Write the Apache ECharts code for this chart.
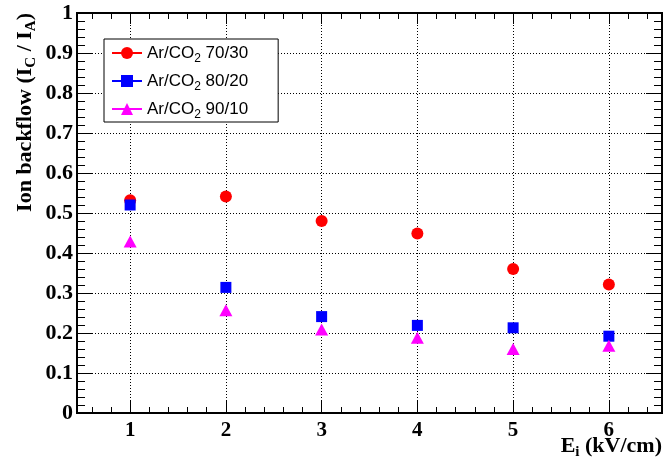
<!DOCTYPE html>
<html>
<head>
<meta charset="utf-8">
<script src="https://cdn.jsdelivr.net/npm/echarts@6/dist/echarts.min.js"></script>
<style>
  html, body { margin: 0; padding: 0; background: #fff; }
  #chart { width: 666px; height: 466px; }
</style>
</head>
<body>
<div id="chart"></div>
<script>
// Induction field E_i (kV/cm)
const fieldValues = [1, 2, 3, 4, 5, 6];
// Ion backflow I_C / I_A for each Ar/CO2 mixture
const ibf7030 = [0.532, 0.541, 0.480, 0.449, 0.360, 0.321];
const ibf8020 = [0.520, 0.314, 0.241, 0.219, 0.213, 0.192];
const ibf9010 = [0.429, 0.257, 0.209, 0.188, 0.160, 0.168];
// Mixture labels
const mixtures = ['70/30', '80/20', '90/10'];
// Tick positions on the field axis
const xMajorTicks = [1, 2, 3, 4, 5, 6];
const xMinorTicks = [0.6, 0.8, 1.2, 1.4, 1.6, 1.8, 2.2, 2.4, 2.6, 2.8,
                     3.2, 3.4, 3.6, 3.8, 4.2, 4.4, 4.6, 4.8, 5.2, 5.4,
                     5.6, 5.8, 6.2, 6.4];

const SERIF = 'Liberation Serif';
const SANS = 'Liberation Sans';
const X_MIN = 0.445, X_MAX = 6.555;

const pairs = (ys) => fieldValues.map((x, i) => [x, ys[i]]);

function xAxisDef(position, ticks, len, withLabels) {
  return {
    type: 'value', position: position, min: X_MIN, max: X_MAX,
    axisLine: { show: false },
    axisTick: { show: true, inside: true, length: len, customValues: ticks,
                lineStyle: { color: '#000', width: 1 } },
    axisLabel: withLabels ? {
      show: true, customValues: ticks, margin: 7,
      fontFamily: SERIF, fontWeight: 'bold', fontSize: 21, color: '#000'
    } : { show: false },
    splitLine: withLabels ? {
      show: true, lineStyle: { color: '#000', width: 1, type: [1, 2] }
    } : { show: false }
  };
}

function yAxisDef(position, withLabels) {
  return {
    type: 'value', position: position, min: 0, max: 1, interval: 0.1,
    axisLine: { show: false },
    axisTick: { show: true, inside: true, length: 16,
                lineStyle: { color: '#000', width: 1 } },
    minorTick: { show: true, splitNumber: 5, length: 8,
                 lineStyle: { color: '#000', width: 1 } },
    axisLabel: withLabels ? {
      show: true, margin: 4,
      fontFamily: SERIF, fontWeight: 'bold', fontSize: 22, color: '#000'
    } : { show: false },
    splitLine: withLabels ? {
      show: true, lineStyle: { color: '#000', width: 1, type: [1, 2] }
    } : { show: false }
  };
}

const subStyle = { fontFamily: SERIF, fontWeight: 'bold', fontSize: 15, color: '#000',
                   lineHeight: 12, padding: [12, 0, 0, 0] };

const xAxes = [
  xAxisDef('bottom', xMajorTicks, 12, true),
  xAxisDef('bottom', xMinorTicks, 6, false),
  xAxisDef('top', xMajorTicks, 11, false),
  xAxisDef('top', xMinorTicks, 6, false)
];
Object.assign(xAxes[0], {
  name: 'E{s|i} (kV/cm)',
  nameLocation: 'end',
  nameGap: 0,
  nameMoveOverlap: false,
  nameTextStyle: {
    fontFamily: SERIF, fontWeight: 'bold', fontSize: 22, color: '#000',
    align: 'right', verticalAlign: 'top', lineHeight: 24, padding: [21, 0, 0, 0],
    rich: { s: subStyle }
  }
});

const yAxes = [yAxisDef('left', true), yAxisDef('right', false)];
Object.assign(yAxes[0], {
  name: 'Ion backflow (I{s|C} / I{s|A})',
  nameLocation: 'end',
  nameRotate: 90,
  nameGap: 0,
  nameMoveOverlap: false,
  nameTextStyle: {
    fontFamily: SERIF, fontWeight: 'bold', fontSize: 22, color: '#000',
    align: 'right', verticalAlign: 'bottom', lineHeight: 24, padding: [0, 0, 40, 0],
    rich: { s: subStyle }
  }
});

function mixtureSeries(name, values, symbol, size, color) {
  return {
    name: name, type: 'line', data: pairs(values),
    xAxisIndex: 0, yAxisIndex: 0,
    symbol: symbol, symbolSize: size, showSymbol: true,
    lineStyle: { width: 0, opacity: 0 },
    itemStyle: { color: color, borderWidth: 0 },
    emphasis: { disabled: true },
    z: 3
  };
}

const chart = echarts.init(document.getElementById('chart'), null, { renderer: 'canvas' });
chart.setOption({
  animation: false,
  backgroundColor: '#fff',
  grid: {
    left: 77, right: 4, top: 13, bottom: 53,
    show: true, borderColor: '#000', borderWidth: 2,
    backgroundColor: 'transparent',
    outerBoundsMode: 'none'
  },
  xAxis: xAxes,
  yAxis: yAxes,
  legend: {
    orient: 'vertical', left: 104, top: 39,
    padding: [2, 30, 1, 7],
    itemWidth: 30, itemHeight: 15, itemGap: 4,
    backgroundColor: '#fff', borderColor: '#000', borderWidth: 1, borderRadius: 0,
    lineStyle: { width: 2, opacity: 1 },
    selectedMode: false,
    formatter: (name) => 'Ar/CO{s|2} ' + name,
    textStyle: {
      fontFamily: SANS, fontSize: 17, color: '#000', lineHeight: 22,
      rich: { s: { fontFamily: SANS, fontSize: 12, color: '#000',
                   lineHeight: 10, padding: [12, 0, 0, 0] } }
    }
  },
  series: [
    mixtureSeries(mixtures[0], ibf7030, 'circle', 12, '#ff0000'),
    mixtureSeries(mixtures[1], ibf8020, 'rect', 11, '#0000ff'),
    mixtureSeries(mixtures[2], ibf9010, 'triangle', [13, 12], '#ff00ff')
  ]
});
</script>
</body>
</html>
